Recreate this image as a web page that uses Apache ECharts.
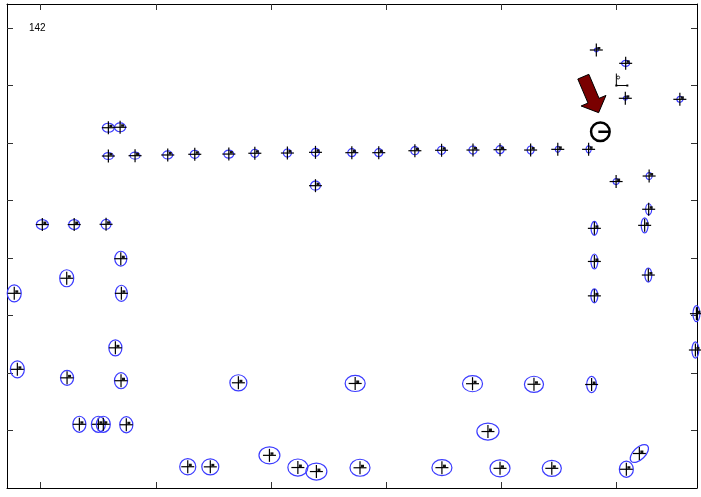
<!DOCTYPE html>
<html><head><meta charset="utf-8">
<script src="https://cdn.jsdelivr.net/npm/echarts@6/dist/echarts.min.js"></script>
<style>html,body{margin:0;padding:0;background:#fff}#c{width:701px;height:497px}</style>
</head><body><div id="c"></div>
<script>
// ---- data (axis units) ----
const pointX = [158.8,169.0,158.8,182.0,210.4,233.9,263.5,286.1,314.4,338.8,338.8,370.4,393.8,425.2,448.4,475.7,499.2,525.8,549.4,576.2,
  582.9,608.4,608.1,655.5,600.1,628.8,628.4,581.2,624.9,581.2,628.1,581.2,669.9,669.0,578.8,
  101.4,129.1,156.8,169.6,122.6,77.0,170.1,164.9,79.7,122.9,169.8,133.6,150.1,154.4,174.4,
  227.8,247.4,271.8,373.3,298.8,323.5,339.6,377.5,448.7,475.3,528.7,488.7,499.2,544.2,609.0,620.3];
const pointY = [313.3,313.7,288.7,289.0,289.6,290.2,290.4,291.1,291.3,291.9,262.9,291.6,291.6,293.3,293.7,293.9,294.2,293.9,294.5,294.5,
  380.9,369.3,338.9,338.0,266.5,271.3,242.4,225.8,228.4,197.0,185.2,167.1,151.6,120.0,90.0,
  229.1,229.1,229.3,199.4,182.4,169.3,169.3,121.9,103.2,95.8,93.3,55.4,55.4,55.4,55.0,
  18.5,18.4,91.5,90.9,28.4,17.8,14.3,17.6,17.7,90.7,90.2,49.1,17.1,17.1,16.3,30.0];
const radiusX = [5.2,4.8,4.3,4.3,4.3,3.9,4.3,3.5,3.5,3.5,4.3,3.5,3.5,3.5,3.5,3.5,3.5,3.0,2.2,2.2,
  1.7,3.5,1.7,2.6,2.6,2.6,2.6,2.9,3.0,3.0,3.0,3.0,3.0,3.0,4.3,
  5.2,4.8,4.3,5.2,6.1,6.1,5.2,5.7,6.1,5.7,5.7,5.7,6.1,6.1,5.7,
  7.0,7.4,7.4,8.7,9.1,8.7,9.1,8.7,8.7,8.7,8.3,9.6,8.7,8.3,6.1,9.8];
const radiusY = [3.9,3.9,3.0,3.0,3.5,3.5,3.5,3.5,3.5,3.5,3.9,3.5,3.5,3.5,3.5,3.5,3.5,3.5,2.6,3.0,
  1.7,2.6,1.7,2.6,2.6,3.0,4.8,6.1,6.5,6.5,6.1,6.1,7.0,7.0,7.0,
  4.3,4.3,4.3,6.5,7.4,7.4,7.0,7.0,7.4,6.5,7.0,7.0,7.0,7.0,7.0,
  7.0,7.0,7.0,7.0,7.4,7.4,7.4,7.4,7.0,7.0,7.0,7.4,7.4,7.0,7.0,5.2];
const tiltDeg = pointX.map(() => 0);
tiltDeg[tiltDeg.length - 1] = 44;
const xTicks = [100,200,300,400,500,600];
const yTicks = [50,100,150,200,250,300,350,400];
const xRange = [70.7, 670.4];
const yRange = [0, 420.9];
const cornerLabel = '142';
const arrowTail = [571.6, 357.7];
const arrowTip = [584.9, 326.4];
const markerCircle = [586.4, 309.8];
const frameIcon = [600.3, 350.0];

// ---- chart ----
const chart = echarts.init(document.getElementById('c'), null, {renderer: 'canvas'});
const axisCommon = {
  type: 'value', axisLabel: {show: false}, splitLine: {show: false},
  axisLine: {show: true, onZero: false, lineStyle: {color: '#000', width: 1}},
  axisTick: {show: true, inside: true, length: 6, lineStyle: {color: '#333', width: 1}}
};
function mkX(pos) { return Object.assign({}, axisCommon, {position: pos, min: xRange[0], max: xRange[1],
  axisTick: Object.assign({}, axisCommon.axisTick, {customValues: xTicks})}); }
function mkY(pos) { return Object.assign({}, axisCommon, {position: pos, min: yRange[0], max: yRange[1],
  axisTick: Object.assign({}, axisCommon.axisTick, {customValues: yTicks})}); }

const pointData = pointX.map((x, i) => [x, pointY[i], radiusX[i], radiusY[i], tiltDeg[i]]);

function renderPoint(params, api) {
  const c = api.coord([api.value(0), api.value(1)]);
  const s = api.size([api.value(2), api.value(3)]);
  const rot = api.value(4) * Math.PI / 180;
  const h = 6.5;
  return {type: 'group', children: [
    {type: 'ellipse', x: c[0], y: c[1], rotation: rot, shape: {cx: 0, cy: 0, rx: s[0], ry: s[1]},
      style: {fill: 'none', stroke: '#3b3bff', lineWidth: 1.2}},
    {type: 'line', shape: {x1: c[0] - h, y1: c[1], x2: c[0] + h, y2: c[1]}, style: {stroke: '#000', lineWidth: 1.2}},
    {type: 'line', shape: {x1: c[0], y1: c[1] - h, x2: c[0], y2: c[1] + h}, style: {stroke: '#000', lineWidth: 1.2}},
    {type: 'rect', shape: {x: c[0] + 1, y: c[1] - 3, width: 3, height: 2.5}, style: {fill: '#111'}}
  ]};
}

function renderArrow(params, api) {
  const t = api.coord([api.value(0), api.value(1)]);
  const p = api.coord([api.value(2), api.value(3)]);
  let dx = p[0] - t[0], dy = p[1] - t[1];
  const len = Math.hypot(dx, dy); dx /= len; dy /= len;
  const nx = -dy, ny = dx, w = 6, H = 13.5, L = 13;
  const bx = p[0] - dx * L, by = p[1] - dy * L;
  const pts = [
    [t[0] + nx * w, t[1] + ny * w], [bx + nx * w, by + ny * w], [bx + nx * H, by + ny * H],
    [p[0], p[1]], [bx - nx * H, by - ny * H], [bx - nx * w, by - ny * w], [t[0] - nx * w, t[1] - ny * w]
  ];
  return {type: 'polygon', shape: {points: pts}, style: {fill: '#7a0000', stroke: '#000', lineWidth: 1}};
}

function renderCircleMark(params, api) {
  const c = api.coord([api.value(0), api.value(1)]);
  return {type: 'group', children: [
    {type: 'circle', shape: {cx: c[0], cy: c[1], r: 9.3}, style: {fill: 'none', stroke: '#000', lineWidth: 2.5}},
    {type: 'line', shape: {x1: c[0] - 2, y1: c[1], x2: c[0] + 9.5, y2: c[1]}, style: {stroke: '#000', lineWidth: 2.5}}
  ]};
}

function renderIcon(params, api) {
  const o = api.coord([api.value(0), api.value(1)]);
  return {type: 'group', children: [
    {type: 'polyline', shape: {points: [[o[0], o[1] - 12], [o[0], o[1]], [o[0] + 11, o[1]]]}, style: {stroke: '#000', lineWidth: 1, fill: 'none'}},
    {type: 'circle', shape: {cx: o[0] + 1.8, cy: o[1] - 8, r: 1.5}, style: {fill: 'none', stroke: '#000', lineWidth: 0.8}},
    {type: 'rect', shape: {x: o[0] + 10, y: o[1] - 1, width: 2, height: 2}, style: {fill: '#000'}},
    {type: 'rect', shape: {x: o[0] - 1, y: o[1] - 1, width: 2, height: 2}, style: {fill: '#000'}}
  ]};
}

chart.setOption({
  animation: false,
  backgroundColor: '#fff',
  grid: {left: 7, right: 4, top: 4, bottom: 9, containLabel: false},
  xAxis: [mkX('bottom'), mkX('top')],
  yAxis: [mkY('left'), mkY('right')],
  graphic: [{type: 'text', left: 29, top: 23, style: {text: cornerLabel, font: '10px "Liberation Sans", Arial, sans-serif', fill: '#000'}}],
  series: [
    {type: 'custom', xAxisIndex: 0, yAxisIndex: 0, clip: false, renderItem: renderPoint, data: pointData, silent: true},
    {type: 'custom', xAxisIndex: 0, yAxisIndex: 0, clip: false, renderItem: renderArrow, data: [[arrowTail[0], arrowTail[1], arrowTip[0], arrowTip[1]]], silent: true},
    {type: 'custom', xAxisIndex: 0, yAxisIndex: 0, clip: false, renderItem: renderCircleMark, data: [markerCircle], silent: true},
    {type: 'custom', xAxisIndex: 0, yAxisIndex: 0, clip: false, renderItem: renderIcon, data: [frameIcon], silent: true}
  ]
});
</script>
</body></html>
